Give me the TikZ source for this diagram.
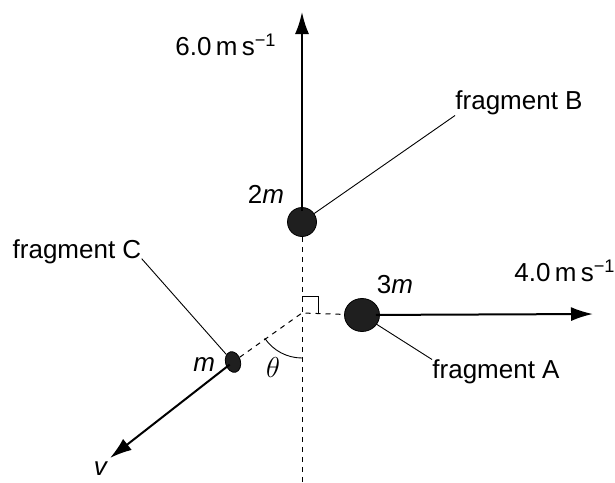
\documentclass[tikz,border=0pt]{standalone}
\usepackage{fontspec}
\setmainfont{Liberation Sans}
\usetikzlibrary{arrows.meta,positioning,calc,shapes.geometric}

\begin{document}
\begin{tikzpicture}[
  x=0.5pt, y=-0.5pt,
  lbl/.style={font=\fontsize{13}{15}\selectfont, inner sep=0pt},
  blob/.style={fill=black!88, draw=black, line width=0.4pt, inner sep=0pt},
  vec/.style={-{Latex[length=11pt, width=7pt]}, line width=1pt, shorten <=-2pt},
  lead/.style={line width=0.45pt},
  dashline/.style={line width=0.5pt, dash pattern=on 2.5pt off 2.5pt},
]
  \useasboundingbox (0,0) rectangle (615,482);

  % explosion point and free ends
  \coordinate (O) at (302,313);
  \coordinate (tipB) at (302,12);
  \coordinate (tipA) at (593,314);
  \coordinate (tipC) at (110,458);
  \coordinate (bot) at (302,482);

  % fragments
  \node[blob, circle, minimum size=14.5pt] (fB) at (302,222) {};
  \node[blob, ellipse, minimum width=17.5pt, minimum height=16.5pt] (fA) at (362,315) {};
  \node[blob, ellipse, minimum width=7.5pt, minimum height=10.5pt, rotate=15] (fC) at (233,362) {};

  % dashed construction lines
  \draw[dashline] (fB) -- (bot);
  \draw[dashline] (fC) -- (O) -- (fA);
  \draw[lead] ($(O)+(0,-17)$) -| ($(O)+(16,0)$);
  \draw[lead] ($(O)+(90:45)$) arc[start angle=90, end angle=146, radius=45];

  % velocities
  \draw[vec] (fB) -- (tipB);
  \draw[vec] (fA) -- (tipA);
  \draw[vec] (fC) -- (tipC);

  % labels
  \node[lbl] (vB) at (226,45) {6.0\,m\,s\textsuperscript{−1}};
  \node[lbl] (vA) at (565,271) {4.0\,m\,s\textsuperscript{−1}};
  \node[lbl] (mB) at (266,194) {2\textit{m}};
  \node[lbl] (mA) at (395,285) {3\textit{m}};
  \node[lbl, left=5pt of fC] (mC) {\textit{m}};
  \node[lbl, font=\fontsize{15}{17}\selectfont] (th) at (273,367) {$\theta$};
  \node[lbl] (v) at (101,469) {\textit{v}};

  \node[lbl] (labB) at (519,103) {fragment B};
  \node[lbl] (labA) at (496,372) {fragment A};
  \node[lbl] (labC) at (77,252) {fragment C};

  \draw[lead] (fB) -- (labB.south west);
  \draw[lead] (fA) -- (labA.north west);
  \draw[lead] (fC) -- (labC.base east);
\end{tikzpicture}
\end{document}
